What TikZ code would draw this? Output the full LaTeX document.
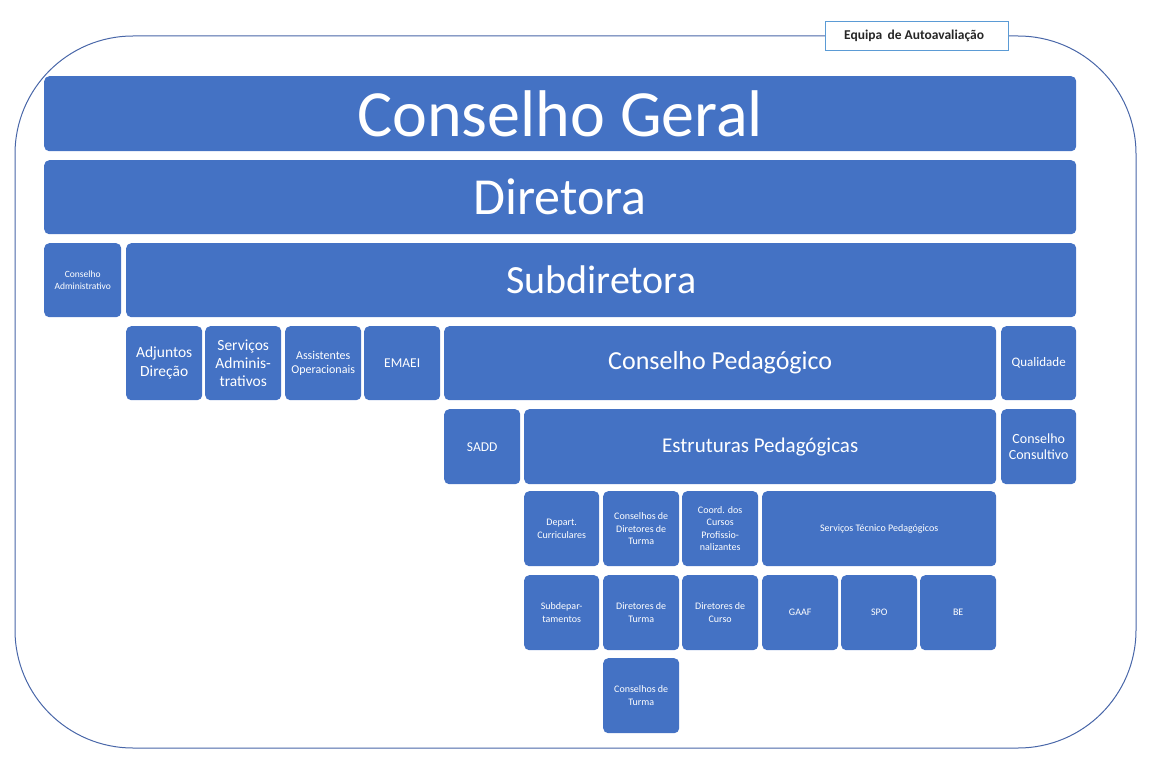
\documentclass[tikz,border=0pt]{standalone}
\usepackage{fontspec}
\setmainfont{Carlito}
\definecolor{mainblue}{RGB}{68,114,196}
\definecolor{framecol}{RGB}{72,102,168}
\definecolor{labelborder}{RGB}{91,155,213}
\definecolor{labeltext}{RGB}{38,38,38}
\begin{document}
\begin{tikzpicture}[x=1pt,y=-1pt,
  blk/.style={fill=mainblue, draw=none, rounded corners=5pt, text=white, align=center, inner sep=1pt, anchor=north west},
  lbl/.style={fill=white, draw=labelborder, line width=1.1pt, text=labeltext, align=center, inner sep=0pt, anchor=north west, font=\bfseries\fontsize{13.5}{15}\selectfont},
  frame/.style={draw=framecol, line width=1pt, rounded corners=118pt}]
\useasboundingbox (0,0) rectangle (1173,762);
\draw[frame] (15,36) rectangle (1136,748);
\node[lbl, minimum width=183pt, minimum height=29pt] (eq) at (825,21) {Equipa\, de Autoavaliação\hspace{6pt}};

\node[blk, minimum width=1032pt, minimum height=75pt, font=\fontsize{66}{70}\selectfont] (cg) at (44,76) {Conselho Geral};
\node[blk, minimum width=1032pt, minimum height=74pt, font=\fontsize{52}{56}\selectfont] (dir) at (44,160) {Diretora};
\node[blk, minimum width=77pt, minimum height=74pt, font=\fontsize{9.5}{11.5}\selectfont] (cadm) at (44,243) {Conselho\\Administrativo};
\node[blk, minimum width=950pt, minimum height=74pt, font=\fontsize{40}{44}\selectfont] (sub) at (126,243) {Subdiretora};

\node[blk, minimum width=76pt, minimum height=74pt, font=\fontsize{15.5}{19}\selectfont] (adj) at (126,326) {Adjuntos\\Direção};
\node[blk, minimum width=76pt, minimum height=74pt, font=\fontsize{15.5}{18}\selectfont] (serv) at (205,326) {Serviços\\Adminis-\\trativos};
\node[blk, minimum width=76pt, minimum height=74pt, font=\fontsize{12}{14.5}\selectfont] (ass) at (285,326) {Assistentes\\Operacionais};
\node[blk, minimum width=76pt, minimum height=74pt, font=\fontsize{13.5}{16}\selectfont] (emaei) at (364,326) {EMAEI};
\node[blk, minimum width=552pt, minimum height=74pt, font=\fontsize{26}{30}\selectfont] (cp) at (444,326) {Conselho Pedagógico};
\node[blk, minimum width=75pt, minimum height=74pt, font=\fontsize{13}{16}\selectfont] (qual) at (1001,326) {Qualidade};

\node[blk, minimum width=76pt, minimum height=75pt, font=\fontsize{13.5}{16}\selectfont] (sadd) at (444,409) {SADD};
\node[blk, minimum width=472pt, minimum height=75pt, font=\fontsize{21}{25}\selectfont] (ep) at (524,409) {Estruturas Pedagógicas};
\node[blk, minimum width=75pt, minimum height=75pt, font=\fontsize{14}{16.5}\selectfont] (ccons) at (1001,409) {Conselho\\Consultivo};

\node[blk, minimum width=75pt, minimum height=75pt, font=\fontsize{10}{12.5}\selectfont] (dep) at (524,491) {Depart.\\Curriculares};
\node[blk, minimum width=76pt, minimum height=75pt, font=\fontsize{10}{12.5}\selectfont] (cdt) at (603,491) {Conselhos de\\Diretores de\\Turma};
\node[blk, minimum width=76pt, minimum height=75pt, font=\fontsize{10}{12.5}\selectfont] (coord) at (682,491) {Coord. dos\\Cursos\\Profissio-\\nalizantes};
\node[blk, minimum width=234pt, minimum height=75pt, font=\fontsize{10}{12.5}\selectfont] (stp) at (762,491) {Serviços Técnico Pedagógicos};

\node[blk, minimum width=75pt, minimum height=75pt, font=\fontsize{10}{12.5}\selectfont] (subd) at (524,575) {Subdepar-\\tamentos};
\node[blk, minimum width=76pt, minimum height=75pt, font=\fontsize{10}{12.5}\selectfont] (dt) at (603,575) {Diretores de\\Turma};
\node[blk, minimum width=76pt, minimum height=75pt, font=\fontsize{10}{12.5}\selectfont] (dc) at (682,575) {Diretores de\\Curso};
\node[blk, minimum width=76pt, minimum height=75pt, font=\fontsize{10}{12.5}\selectfont] (gaaf) at (762,575) {GAAF};
\node[blk, minimum width=76pt, minimum height=75pt, font=\fontsize{10}{12.5}\selectfont] (spo) at (841,575) {SPO};
\node[blk, minimum width=76pt, minimum height=75pt, font=\fontsize{10}{12.5}\selectfont] (be) at (920,575) {BE};

\node[blk, minimum width=76pt, minimum height=75pt, font=\fontsize{10}{12.5}\selectfont] (ct) at (603,658) {Conselhos de\\Turma};
\end{tikzpicture}
\end{document}
